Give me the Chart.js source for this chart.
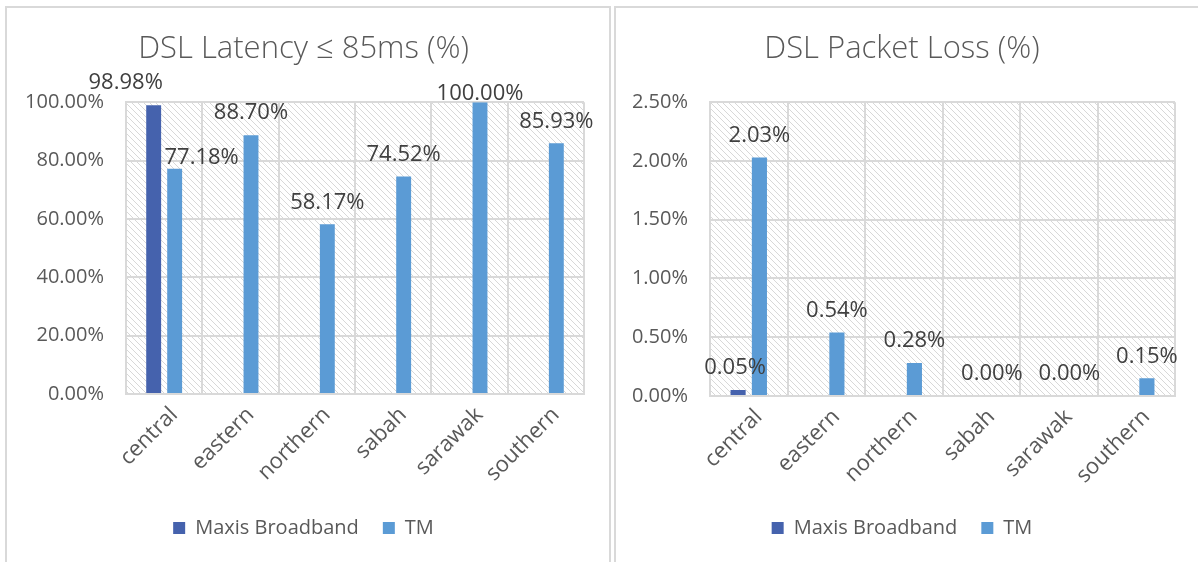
<!DOCTYPE html>
<html>
<head>
<meta charset="utf-8">
<script src="https://cdn.jsdelivr.net/npm/chart.js@4"></script>
<style>
  html, body { margin: 0; padding: 0; background: #fff; overflow: hidden; }
  .panel { position: absolute; top: 6px; border: 2px solid #d9d9d9; background: #fff; }
  #leftPanel { left: 5px; width: 602px; height: 570px; }
  #rightPanel { left: 614px; width: 600px; height: 570px; }
  canvas { display: block; }
</style>
</head>
<body>
<div class="panel" id="leftPanel"><canvas id="latencyChart" width="602" height="554"></canvas></div>
<div class="panel" id="rightPanel"><canvas id="lossChart" width="582" height="554"></canvas></div>
<script>
// data
const regions = ['central', 'eastern', 'northern', 'sabah', 'sarawak', 'southern'];
const seriesNames = ['Maxis Broadband', 'TM'];
const latencyMaxis = [98.98, null, null, null, null, null];
const latencyTM = [77.18, 88.70, 58.17, 74.52, 100.00, 85.93];
const lossMaxis = [0.05, null, null, null, null, null];
const lossTM = [2.03, 0.54, 0.28, 0.00, 0.00, 0.15];

const maxisColor = '#4562ad';
const tmColor = '#5b9bd5';
const gridColor = '#d9d9d9';
const font = '"Open Sans", "Noto Sans", sans-serif';

// hatched plot background (like the Excel pattern fill)
const hatchBackground = {
    id: 'hatchBackground',
    beforeDraw(chart) {
        const { ctx, chartArea: a } = chart;
        const tile = document.createElement('canvas');
        tile.width = tile.height = 6;
        const t = tile.getContext('2d');
        t.strokeStyle = '#d8d8d8';
        t.lineWidth = 1;
        t.beginPath();
        t.moveTo(-1, -1); t.lineTo(7, 7);
        t.moveTo(-1, 5); t.lineTo(1, 7);
        t.moveTo(5, -1); t.lineTo(7, 1);
        t.stroke();
        ctx.save();
        ctx.fillStyle = ctx.createPattern(tile, 'repeat');
        ctx.fillRect(a.left, a.top, a.right - a.left, a.bottom - a.top);
        ctx.restore();
    }
};

// value labels above the bars
const barLabels = {
    id: 'barLabels',
    afterDatasetsDraw(chart, args, opts) {
        const ctx = chart.ctx;
        const shift = opts.shift || {};
        ctx.save();
        ctx.font = '22px ' + font;
        ctx.fillStyle = '#404040';
        ctx.textAlign = 'center';
        ctx.textBaseline = 'middle';
        chart.data.datasets.forEach((ds, i) => {
            chart.getDatasetMeta(i).data.forEach((bar, j) => {
                const v = ds.data[j];
                if (v === null || v === undefined) return;
                const s = shift[i + '-' + j] || [0, 0];
                ctx.fillText(v.toFixed(2) + '%', bar.x + s[0], bar.y - 22 + s[1]);
            });
        });
        ctx.restore();
    }
};

function makeChart(id, title, maxis, tm, yMax, step, yWidth, xHeight, padLeft, padRight, shift) {
    return new Chart(document.getElementById(id), {
        type: 'bar',
        data: {
            labels: regions,
            datasets: [
                { label: seriesNames[0], data: maxis, backgroundColor: maxisColor },
                { label: seriesNames[1], data: tm, backgroundColor: tmColor }
            ]
        },
        options: {
            responsive: false,
            animation: false,
            categoryPercentage: 0.55,
            barPercentage: 0.71,
            layout: { padding: { left: padLeft, right: padRight, top: 0, bottom: 14 } },
            plugins: {
                title: {
                    display: true,
                    text: title,
                    color: '#595959',
                    font: { family: font, size: 31, weight: '300' },
                    padding: { top: 23, bottom: 34 }
                },
                legend: {
                    position: 'bottom',
                    labels: {
                        color: '#595959',
                        font: { family: font, size: 20 },
                        boxWidth: 12,
                        boxHeight: 12,
                        padding: 24
                    }
                },
                tooltip: { enabled: false },
                barLabels: { shift: shift }
            },
            scales: {
                x: {
                    grid: { color: gridColor, lineWidth: 2, drawTicks: false },
                    border: { color: gridColor, width: 2 },
                    ticks: {
                        color: '#595959',
                        font: { family: font, size: 22 },
                        minRotation: 45,
                        maxRotation: 45,
                        padding: 8,
                        labelOffset: 10
                    },
                    afterFit(scale) { scale.height = xHeight; }
                },
                y: {
                    min: 0,
                    max: yMax,
                    grid: { color: gridColor, lineWidth: 2, drawTicks: false },
                    border: { color: gridColor, width: 2 },
                    ticks: {
                        stepSize: step,
                        padding: 22,
                        color: '#595959',
                        font: { family: font, size: 20 },
                        callback: v => v.toFixed(2) + '%'
                    },
                    afterFit(scale) { scale.width = yWidth; }
                }
            }
        },
        plugins: [hatchBackground, barLabels]
    });
}

document.addEventListener('DOMContentLoaded', () => {
    // Grafik latency
    makeChart('latencyChart', 'DSL Latency \u2264 85ms (%)', latencyMaxis, latencyTM,
        100, 20, 103, 100, 16, 25, { '0-0': [-28, 0], '1-0': [27, 11], '1-4': [0, 14] });
    // Grafik packet loss
    makeChart('lossChart', 'DSL Packet Loss (%)', lossMaxis, lossTM,
        2.5, 0.5, 81, 98, 13, 23, { '0-0': [-3, 0] });
});
</script>
</body>
</html>
